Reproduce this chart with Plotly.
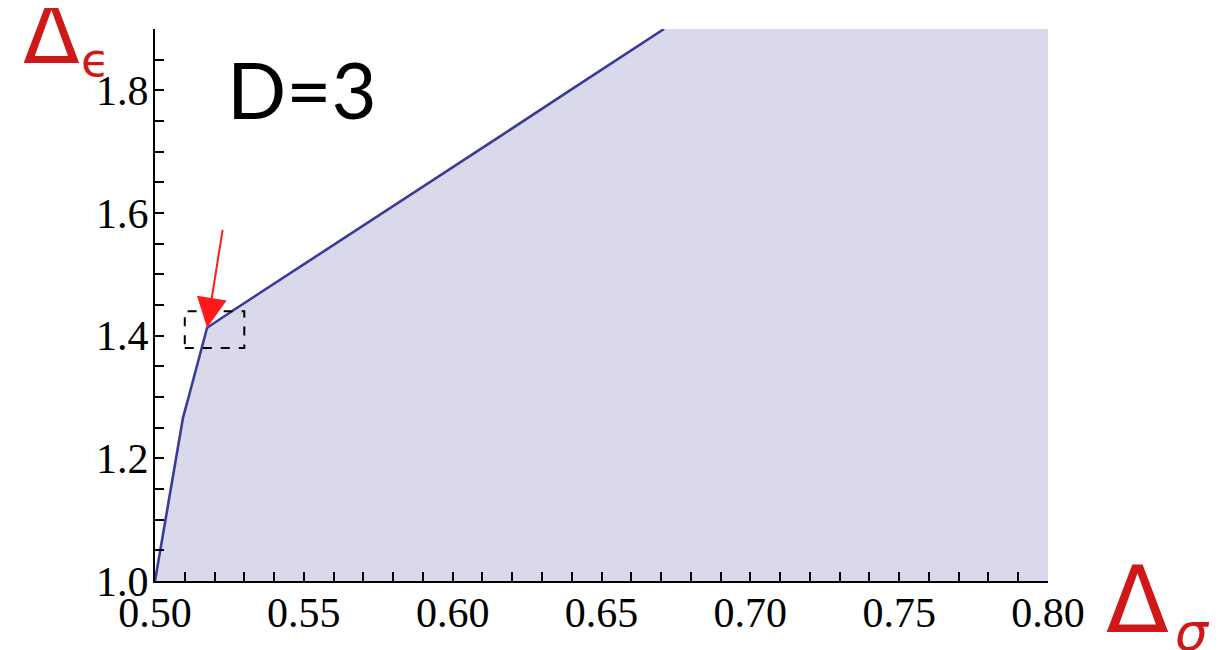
import plotly.graph_objects as go

# Boundary curve (Delta_sigma, Delta_epsilon)
curve_x = [0.5000, 0.5036, 0.5070, 0.5094, 0.5113, 0.5168, 0.5175, 0.5262, 0.5500, 0.5890, 0.6159, 0.6394, 0.6663, 0.6710]
curve_y = [1.000, 1.100, 1.200, 1.266, 1.300, 1.400, 1.413, 1.441, 1.516, 1.640, 1.725, 1.800, 1.885, 1.900]

x_range = [0.50, 0.80]
y_range = [1.0, 1.9]
x_ticks = [0.50, 0.55, 0.60, 0.65, 0.70, 0.75, 0.80]
y_ticks = [1.0, 1.2, 1.4, 1.6, 1.8]

box_x = [0.51, 0.53]
box_y = [1.38, 1.44]
arrow_tail = [0.5228, 1.575]
arrow_tip = [0.5175, 1.413]

fill_color = "#d9d9eb"
line_color = "#3b3b9b"
red = "#d01818"

fig = go.Figure()
fig.add_trace(go.Scatter(
    x=curve_x + [x_range[1], x_range[1]],
    y=curve_y + [y_range[1], y_range[0]],
    fill="toself", fillcolor=fill_color, mode="none", hoverinfo="skip", showlegend=False))
fig.add_trace(go.Scatter(
    x=curve_x, y=curve_y, mode="lines",
    line=dict(color=line_color, width=2.6), showlegend=False))

fig.add_shape(type="rect", x0=box_x[0], x1=box_x[1], y0=box_y[0], y1=box_y[1],
              xref="x", yref="y", line=dict(color="black", width=2, dash="dash"))

fig.add_annotation(x=arrow_tip[0], y=arrow_tip[1], ax=arrow_tail[0], ay=arrow_tail[1],
                   xref="x", yref="y", axref="x", ayref="y", text="", showarrow=True,
                   arrowhead=2, arrowsize=3, arrowwidth=2, arrowcolor="#ff1a1a")

fig.add_annotation(x=0.5235, y=1.8015, xref="x", yref="y", text="D=3", showarrow=False,
                   xanchor="left", yanchor="middle",
                   font=dict(family="Lato", size=78, color="black"))

# axis symbols: Delta with subscripts
fig.add_annotation(x=-0.1159, y=0.9904, xref="paper", yref="paper", text="Δ", showarrow=False,
                   xanchor="center", yanchor="middle",
                   font=dict(family="DejaVu Sans", size=83, color=red))
fig.add_annotation(x=-0.0661, y=0.945, xref="paper", yref="paper", text="ϵ", showarrow=False,
                   xanchor="center", yanchor="middle",
                   font=dict(family="DejaVu Sans", size=47, color=red))
fig.add_annotation(x=1.1002, y=-0.0355, xref="paper", yref="paper", text="Δ", showarrow=False,
                   xanchor="center", yanchor="middle",
                   font=dict(family="DejaVu Sans", size=92, color=red))
fig.add_annotation(x=1.1618, y=-0.0930, xref="paper", yref="paper", text="<i>σ</i>", showarrow=False,
                   xanchor="center", yanchor="middle",
                   font=dict(family="DejaVu Sans", size=52, color=red))

axis_common = dict(showline=True, linecolor="black", linewidth=2, showgrid=False, zeroline=False,
                   ticks="inside", ticklen=9, tickwidth=2, tickcolor="black",
                   tickfont=dict(family="Liberation Serif", size=42, color="black"),
                   mirror=False)

fig.update_xaxes(range=x_range, tickvals=x_ticks, tickformat=".2f", ticklabelstandoff=-6,
                 minor=dict(ticks="inside", dtick=0.01, tick0=0.5, ticklen=9, tickwidth=2, tickcolor="black"),
                 **axis_common)
fig.update_yaxes(range=y_range, tickvals=y_ticks, tickformat=".1f", ticklabelstandoff=-4,
                 minor=dict(ticks="inside", dtick=0.05, tick0=1.0, ticklen=9, tickwidth=2, tickcolor="black"),
                 **axis_common)

# page body adds an 8px offset; size the figure so it fills the 1223x650 window
fig.update_layout(width=1215, height=642, margin=dict(l=147, r=175, t=21, b=69),
                  plot_bgcolor="white", paper_bgcolor="white")

fig.write_html("out.html")
